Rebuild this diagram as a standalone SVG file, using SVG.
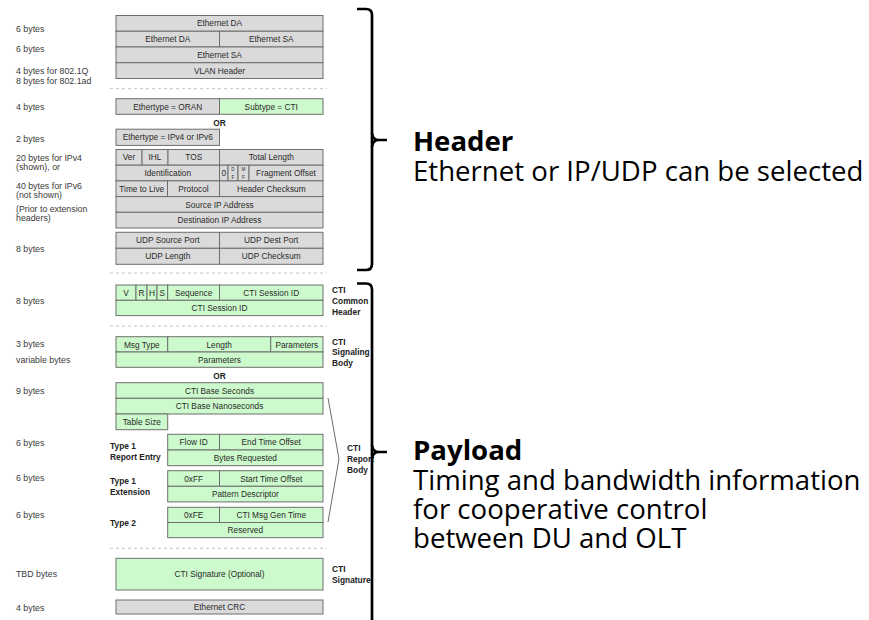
<svg xmlns="http://www.w3.org/2000/svg" width="869" height="620" viewBox="0 0 869 620">
  <style>
    .g { fill: #dadada; stroke: #6e6e6e; stroke-width: 1; }
    .c { fill: #ccfacc; stroke: #6e6e6e; stroke-width: 1; }
    .t { font-family: "Liberation Sans", Arial, sans-serif; font-size: 8.3px; text-anchor: middle; fill: #2a2a2a; }
    .tiny { font-family: "Liberation Sans", Arial, sans-serif; font-size: 4.6px; text-anchor: middle; fill: #2a2a2a; }
    .l { font-family: "Liberation Sans", Arial, sans-serif; font-size: 8.8px; fill: #3a3a3a; }
    .b { font-family: "Liberation Sans", Arial, sans-serif; font-size: 8.4px; font-weight: bold; fill: #222; }
    .or { font-family: "Liberation Sans", Arial, sans-serif; font-size: 8.4px; font-weight: bold; text-anchor: middle; fill: #222; }
    .sep { stroke: #c2c2c2; stroke-width: 1; stroke-dasharray: 3 3; fill: none; }
    .brace { fill: none; stroke: #000; stroke-width: 2.7; stroke-linecap: butt; stroke-linejoin: round; }
    .angle { fill: none; stroke: #5a5a5a; stroke-width: 0.9; }
    .h { font-family: "Open Sans", "Noto Sans", sans-serif; font-size: 27.6px; font-weight: bold; fill: #000; }
    .d { font-family: "Open Sans", "Noto Sans", sans-serif; font-size: 27.6px; fill: #000; }
  </style>

  <!-- byte-count captions on the left -->
  <g id="byte-labels" class="l">
    <text x="16" y="32.3">6 bytes</text>
    <text x="16" y="52.3">6 bytes</text>
    <text x="16" y="74">4 bytes for 802.1Q</text>
    <text x="16" y="83.7">8 bytes for 802.1ad</text>
    <text x="16" y="110.3">4 bytes</text>
    <text x="16" y="142">2 bytes</text>
    <text x="16" y="161">20 bytes for IPv4</text>
    <text x="16" y="169.7">(shown), or</text>
    <text x="16" y="189">40 bytes for IPv6</text>
    <text x="16" y="197.5">(not shown)</text>
    <text x="16" y="212.3">(Prior to extension</text>
    <text x="16" y="220.7">headers)</text>
    <text x="16" y="252">8 bytes</text>
    <text x="16" y="303.7">8 bytes</text>
    <text x="16" y="347">3 bytes</text>
    <text x="16" y="363">variable bytes</text>
    <text x="16" y="393.7">9 bytes</text>
    <text x="16" y="445.7">6 bytes</text>
    <text x="16" y="481.3">6 bytes</text>
    <text x="16" y="518">6 bytes</text>
    <text x="16" y="577.3">TBD bytes</text>
    <text x="16" y="610.7">4 bytes</text>
  </g>

  <!-- section separators -->
  <g id="separators" class="sep">
    <line x1="110" y1="88.7" x2="327" y2="88.7"/>
    <line x1="110" y1="273" x2="327" y2="273"/>
    <line x1="110" y1="326" x2="327" y2="326"/>
    <line x1="110" y1="548.3" x2="327" y2="548.3"/>
  </g>

  <!-- Ethernet addresses and VLAN -->
  <g id="ethernet-header">
    <rect class="g" x="116" y="15.5" width="207" height="15.75"/>
    <rect class="g" x="116" y="31.25" width="103.5" height="15.75"/>
    <rect class="g" x="219.5" y="31.25" width="103.5" height="15.75"/>
    <rect class="g" x="116" y="47" width="207" height="15.75"/>
    <rect class="g" x="116" y="62.75" width="207" height="15.75"/>
    <text class="t" x="219.5" y="26.4">Ethernet DA</text>
    <text class="t" x="167.75" y="42.1">Ethernet DA</text>
    <text class="t" x="271.25" y="42.1">Ethernet SA</text>
    <text class="t" x="219.5" y="57.9">Ethernet SA</text>
    <text class="t" x="219.5" y="73.6">VLAN Header</text>
  </g>

  <!-- ORAN ethertype / CTI subtype -->
  <g id="ethertype-oran">
    <rect class="g" x="116" y="98.7" width="103.5" height="15.6"/>
    <rect class="c" x="219.5" y="98.7" width="103.5" height="15.6"/>
    <text class="t" x="167.75" y="109.5">Ethertype = ORAN</text>
    <text class="t" x="271.25" y="109.5">Subtype = CTI</text>
  </g>

  <g id="or-1"><text class="or" x="219.5" y="126">OR</text></g>

  <!-- IP ethertype -->
  <g id="ethertype-ip">
    <rect class="g" x="116" y="129.2" width="103.5" height="16.2"/>
    <text class="t" x="167.75" y="140.3">Ethertype = IPv4 or IPv6</text>
  </g>

  <!-- IPv4 header -->
  <g id="ip-header">
    <rect class="g" x="116" y="149.5" width="26" height="15.7"/>
    <rect class="g" x="142" y="149.5" width="26" height="15.7"/>
    <rect class="g" x="168" y="149.5" width="51.5" height="15.7"/>
    <rect class="g" x="219.5" y="149.5" width="103.5" height="15.7"/>
    <text class="t" x="129" y="160.4">Ver</text>
    <text class="t" x="155" y="160.4">IHL</text>
    <text class="t" x="193.75" y="160.4">TOS</text>
    <text class="t" x="271.25" y="160.4">Total Length</text>

    <rect class="g" x="116" y="165.2" width="103.5" height="15.7"/>
    <rect class="g" x="219.5" y="165.2" width="8.5" height="15.7"/>
    <rect class="g" x="228" y="165.2" width="10" height="15.7"/>
    <rect class="g" x="238" y="165.2" width="11" height="15.7"/>
    <rect class="g" x="249" y="165.2" width="74" height="15.7"/>
    <text class="t" x="167.75" y="176.1">Identification</text>
    <text class="t" x="223.75" y="176.1">0</text>
    <text class="tiny" x="233" y="171.3">D</text>
    <text class="tiny" x="233" y="179.3">F</text>
    <text class="tiny" x="243.5" y="171.3">M</text>
    <text class="tiny" x="243.5" y="179.3">F</text>
    <text class="t" x="286" y="176.1">Fragment Offset</text>

    <rect class="g" x="116" y="180.9" width="51.5" height="15.7"/>
    <rect class="g" x="167.5" y="180.9" width="52" height="15.7"/>
    <rect class="g" x="219.5" y="180.9" width="103.5" height="15.7"/>
    <text class="t" x="141.75" y="191.8">Time to Live</text>
    <text class="t" x="193.5" y="191.8">Protocol</text>
    <text class="t" x="271.25" y="191.8">Header Checksum</text>

    <rect class="g" x="116" y="196.6" width="207" height="15.7"/>
    <text class="t" x="219.5" y="207.5">Source IP Address</text>
    <rect class="g" x="116" y="212.3" width="207" height="15.7"/>
    <text class="t" x="219.5" y="223.2">Destination IP Address</text>
  </g>

  <!-- UDP header -->
  <g id="udp-header">
    <rect class="g" x="116" y="232.3" width="103.5" height="16"/>
    <rect class="g" x="219.5" y="232.3" width="103.5" height="16"/>
    <rect class="g" x="116" y="248.3" width="103.5" height="16"/>
    <rect class="g" x="219.5" y="248.3" width="103.5" height="16"/>
    <text class="t" x="167.75" y="243.4">UDP Source Port</text>
    <text class="t" x="271.25" y="243.4">UDP Dest Port</text>
    <text class="t" x="167.75" y="259.4">UDP Length</text>
    <text class="t" x="271.25" y="259.4">UDP Checksum</text>
  </g>

  <!-- CTI common header -->
  <g id="cti-common-header">
    <rect class="c" x="116" y="285" width="20" height="15.3"/>
    <rect class="c" x="136" y="285" width="11" height="15.3"/>
    <rect class="c" x="147" y="285" width="10" height="15.3"/>
    <rect class="c" x="157" y="285" width="10.7" height="15.3"/>
    <rect class="c" x="167.7" y="285" width="51.8" height="15.3"/>
    <rect class="c" x="219.5" y="285" width="103.5" height="15.3"/>
    <rect class="c" x="116" y="300.3" width="207" height="15.3"/>
    <text class="t" x="126" y="295.8">V</text>
    <text class="t" x="141.5" y="295.8">R</text>
    <text class="t" x="152" y="295.8">H</text>
    <text class="t" x="162.3" y="295.8">S</text>
    <text class="t" x="193.6" y="295.8">Sequence</text>
    <text class="t" x="271.25" y="295.8">CTI Session ID</text>
    <text class="t" x="219.5" y="311.1">CTI Session ID</text>
    <text class="b" x="332" y="293">CTI</text>
    <text class="b" x="332" y="304">Common</text>
    <text class="b" x="332" y="315">Header</text>
  </g>

  <!-- CTI signaling body -->
  <g id="cti-signaling-body">
    <rect class="c" x="116" y="336.7" width="51.7" height="15.3"/>
    <rect class="c" x="167.7" y="336.7" width="103" height="15.3"/>
    <rect class="c" x="270.7" y="336.7" width="52.3" height="15.3"/>
    <rect class="c" x="116" y="352" width="207" height="15.3"/>
    <text class="t" x="141.85" y="347.5">Msg Type</text>
    <text class="t" x="219.2" y="347.5">Length</text>
    <text class="t" x="296.85" y="347.5">Parameters</text>
    <text class="t" x="219.5" y="362.8">Parameters</text>
    <text class="b" x="332" y="344.7">CTI</text>
    <text class="b" x="332" y="355">Signaling</text>
    <text class="b" x="332" y="366.3">Body</text>
  </g>

  <g id="or-2"><text class="or" x="219.5" y="379">OR</text></g>

  <!-- CTI report body -->
  <g id="cti-report-base">
    <rect class="c" x="116" y="382.7" width="207" height="15.6"/>
    <rect class="c" x="116" y="398.3" width="207" height="15.7"/>
    <rect class="c" x="116" y="414" width="51.7" height="15.7"/>
    <text class="t" x="219.5" y="393.5">CTI Base Seconds</text>
    <text class="t" x="219.5" y="409.2">CTI Base Nanoseconds</text>
    <text class="t" x="141.85" y="424.9">Table Size</text>
  </g>

  <g id="type1-report-entry">
    <rect class="c" x="167.7" y="434.3" width="51.8" height="15.7"/>
    <rect class="c" x="219.5" y="434.3" width="103.5" height="15.7"/>
    <rect class="c" x="167.7" y="450" width="155.3" height="15.7"/>
    <text class="t" x="193.6" y="445.2">Flow ID</text>
    <text class="t" x="271.25" y="445.2">End Time Offset</text>
    <text class="t" x="245.35" y="460.9">Bytes Requested</text>
    <text class="b" x="110" y="448.7">Type 1</text>
    <text class="b" x="110" y="459.7">Report Entry</text>
  </g>

  <g id="type1-extension">
    <rect class="c" x="167.7" y="470.7" width="51.8" height="15.6"/>
    <rect class="c" x="219.5" y="470.7" width="103.5" height="15.6"/>
    <rect class="c" x="167.7" y="486.3" width="155.3" height="15.6"/>
    <text class="t" x="193.6" y="481.5">0xFF</text>
    <text class="t" x="271.25" y="481.5">Start Time Offset</text>
    <text class="t" x="245.35" y="497.1">Pattern Descriptor</text>
    <text class="b" x="110" y="483.7">Type 1</text>
    <text class="b" x="110" y="495.3">Extension</text>
  </g>

  <g id="type2">
    <rect class="c" x="167.7" y="507.3" width="51.8" height="15.2"/>
    <rect class="c" x="219.5" y="507.3" width="103.5" height="15.2"/>
    <rect class="c" x="167.7" y="522.5" width="155.3" height="15.2"/>
    <text class="t" x="193.6" y="518">0xFE</text>
    <text class="t" x="271.25" y="518">CTI Msg Gen Time</text>
    <text class="t" x="245.35" y="533.2">Reserved</text>
    <text class="b" x="110" y="526.3">Type 2</text>
  </g>

  <g id="cti-report-label">
    <text class="b" x="347" y="450.7">CTI</text>
    <text class="b" x="347" y="462">Report</text>
    <text class="b" x="347" y="473">Body</text>
  </g>

  <!-- CTI signature -->
  <g id="cti-signature">
    <rect class="c" x="116" y="558.3" width="207" height="31.7"/>
    <text class="t" x="219.5" y="577.1">CTI Signature (Optional)</text>
    <text class="b" x="332" y="572">CTI</text>
    <text class="b" x="332" y="583">Signature</text>
  </g>

  <!-- Ethernet CRC -->
  <g id="ethernet-crc">
    <rect class="g" x="116" y="600" width="207" height="14"/>
    <text class="t" x="219.5" y="610">Ethernet CRC</text>
  </g>

  <!-- brackets grouping the fields -->
  <g id="connectors">
    <polyline class="angle" points="328,398 339,459 328,522"/>
    <path class="brace" d="M357,9 H366 Q372,9 372,15 V264 Q372,270 366,270 H357"/>
    <path class="brace" d="M372,133 Q372.5,140 379,140 H387 M372,147 Q372.5,140 379,140"/>
    <path class="brace" d="M357,283.5 H366 Q372,283.5 372,289.5 V625"/>
    <path class="brace" d="M372,445 Q372.5,452 379,452 H387 M372,459 Q372.5,452 379,452"/>
  </g>

  <!-- section descriptions -->
  <g id="header-note">
    <text class="h" x="413" y="151">Header</text>
    <text class="d" x="413" y="181">Ethernet or IP/UDP can be selected</text>
  </g>
  <g id="payload-note">
    <text class="h" x="413" y="460">Payload</text>
    <text class="d" x="413" y="490">Timing and bandwidth information</text>
    <text class="d" x="413" y="519">for cooperative control</text>
    <text class="d" x="413" y="548">between DU and OLT</text>
  </g>
</svg>
